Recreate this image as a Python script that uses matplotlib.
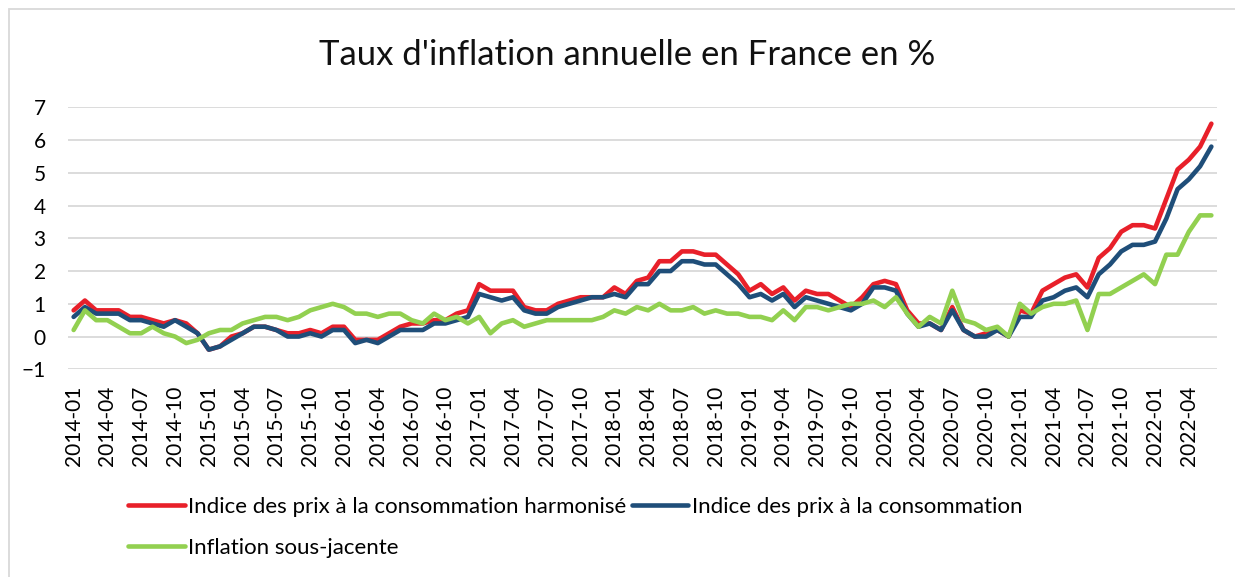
import matplotlib.pyplot as plt
import pandas as pd
from matplotlib.patches import Rectangle

# monthly categories 2014-01 .. 2022-06
months = pd.date_range('2014-01-01', '2022-06-01', freq='MS').strftime('%Y-%m').tolist()

ipch = [0.8, 1.1, 0.8, 0.8, 0.8, 0.6, 0.6, 0.5, 0.4, 0.5, 0.4, 0.1,
        -0.4, -0.3, 0.0, 0.1, 0.3, 0.3, 0.2, 0.1, 0.1, 0.2, 0.1, 0.3,
        0.3, -0.1, -0.1, -0.1, 0.1, 0.3, 0.4, 0.4, 0.5, 0.5, 0.7, 0.8,
        1.6, 1.4, 1.4, 1.4, 0.9, 0.8, 0.8, 1.0, 1.1, 1.2, 1.2, 1.2,
        1.5, 1.3, 1.7, 1.8, 2.3, 2.3, 2.6, 2.6, 2.5, 2.5, 2.2, 1.9,
        1.4, 1.6, 1.3, 1.5, 1.1, 1.4, 1.3, 1.3, 1.1, 0.9, 1.2, 1.6,
        1.7, 1.6, 0.8, 0.4, 0.4, 0.2, 0.9, 0.2, 0.0, 0.1, 0.2, 0.0,
        0.8, 0.7, 1.4, 1.6, 1.8, 1.9, 1.5, 2.4, 2.7, 3.2, 3.4, 3.4,
        3.3, 4.2, 5.1, 5.4, 5.8, 6.5]

ipc = [0.6, 0.9, 0.7, 0.7, 0.7, 0.5, 0.5, 0.4, 0.3, 0.5, 0.3, 0.1,
       -0.4, -0.3, -0.1, 0.1, 0.3, 0.3, 0.2, 0.0, 0.0, 0.1, 0.0, 0.2,
       0.2, -0.2, -0.1, -0.2, 0.0, 0.2, 0.2, 0.2, 0.4, 0.4, 0.5, 0.6,
       1.3, 1.2, 1.1, 1.2, 0.8, 0.7, 0.7, 0.9, 1.0, 1.1, 1.2, 1.2,
       1.3, 1.2, 1.6, 1.6, 2.0, 2.0, 2.3, 2.3, 2.2, 2.2, 1.9, 1.6,
       1.2, 1.3, 1.1, 1.3, 0.9, 1.2, 1.1, 1.0, 0.9, 0.8, 1.0, 1.5,
       1.5, 1.4, 0.7, 0.3, 0.4, 0.2, 0.8, 0.2, 0.0, 0.0, 0.2, 0.0,
       0.6, 0.6, 1.1, 1.2, 1.4, 1.5, 1.2, 1.9, 2.2, 2.6, 2.8, 2.8,
       2.9, 3.6, 4.5, 4.8, 5.2, 5.8]

sous_jacente = [0.2, 0.8, 0.5, 0.5, 0.3, 0.1, 0.1, 0.3, 0.1, 0.0, -0.2, -0.1,
                0.1, 0.2, 0.2, 0.4, 0.5, 0.6, 0.6, 0.5, 0.6, 0.8, 0.9, 1.0,
                0.9, 0.7, 0.7, 0.6, 0.7, 0.7, 0.5, 0.4, 0.7, 0.5, 0.6, 0.4,
                0.6, 0.1, 0.4, 0.5, 0.3, 0.4, 0.5, 0.5, 0.5, 0.5, 0.5, 0.6,
                0.8, 0.7, 0.9, 0.8, 1.0, 0.8, 0.8, 0.9, 0.7, 0.8, 0.7, 0.7,
                0.6, 0.6, 0.5, 0.8, 0.5, 0.9, 0.9, 0.8, 0.9, 1.0, 1.0, 1.1,
                0.9, 1.2, 0.7, 0.3, 0.6, 0.4, 1.4, 0.5, 0.4, 0.2, 0.3, 0.0,
                1.0, 0.7, 0.9, 1.0, 1.0, 1.1, 0.2, 1.3, 1.3, 1.5, 1.7, 1.9,
                1.6, 2.5, 2.5, 3.2, 3.7, 3.7]

labels = ['Indice des prix à la consommation harmonisé',
          'Indice des prix à la consommation',
          'Inflation sous-jacente']

plt.rcParams['font.family'] = ['Lato', 'DejaVu Sans']

fig = plt.figure(figsize=(12.35, 5.77), dpi=100)
ax = fig.add_axes([68 / 1235, 1 - 369.3 / 577, 1149 / 1235, 262 / 577])

x = range(len(months))
lw = 3.3
l_red, = ax.plot(x, ipch, color='#e8202a', lw=lw, solid_capstyle='round', solid_joinstyle='round', label=labels[0])
l_blue, = ax.plot(x, ipc, color='#1f4e79', lw=lw, solid_capstyle='round', solid_joinstyle='round', label=labels[1])
l_green, = ax.plot(x, sous_jacente, color='#92d050', lw=lw, solid_capstyle='round', solid_joinstyle='round', label=labels[2])

ax.set_xlim(-0.5, len(months) - 0.5)
ax.set_ylim(-1, 7)
ax.set_yticks(range(-1, 8))
ax.set_xticks(list(x)[::3])
ax.set_xticklabels(months[::3], rotation=90, fontsize=15)
ax.tick_params(axis='y', labelsize=15, length=0, pad=16)
ax.tick_params(axis='x', length=0, pad=12)
ax.grid(axis='y', color='#d9d9d9', lw=1.3)
ax.set_axisbelow(True)
for s in ax.spines.values():
    s.set_visible(False)

fig.text(627 / 1235, 1 - 55 / 577, "Taux d'inflation annuelle en France en %",
         ha='center', va='center', fontsize=25, color='#111111')

fig.legend([l_red, l_green, l_blue], [labels[0], labels[2], labels[1]],
           ncol=2, loc='center left', bbox_to_anchor=(128 / 1235, 1 - 527.5 / 577),
           frameon=False, fontsize=16, handlelength=2.55, handletextpad=0.15,
           columnspacing=0.25, labelspacing=0.95, borderpad=0, borderaxespad=0)

# light frame around the chart area
fig.patches.append(Rectangle((9 / 1235, -0.1), 1.2, 1.1 - 9 / 577, transform=fig.transFigure,
                             fill=False, edgecolor='#d9d9d9', lw=1.3))

fig.savefig('out.png', dpi=100)
